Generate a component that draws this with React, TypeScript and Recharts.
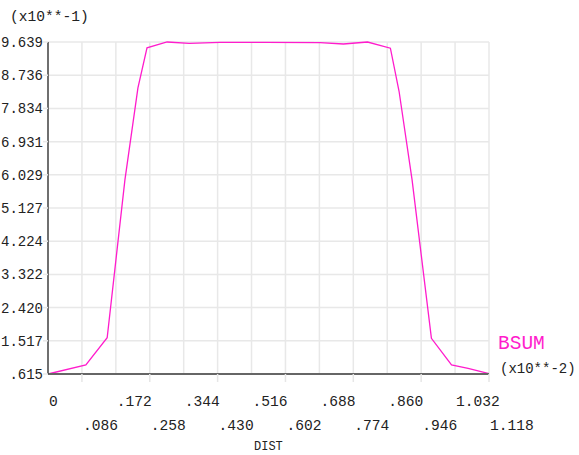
import React from "react";
import { LineChart, Line, XAxis, YAxis, CartesianGrid } from "recharts";

const distValues = [0, 0.096, 0.15, 0.195, 0.228, 0.251, 0.302, 0.358, 0.436, 0.55, 0.69, 0.749, 0.81, 0.868, 0.89, 0.923, 0.972, 1.023, 1.065, 1.118];
const bsumValues = [0.615, 0.86, 1.6, 5.89, 8.39, 9.48, 9.639, 9.604, 9.63, 9.63, 9.62, 9.585, 9.639, 9.47, 8.3, 5.89, 1.585, 0.86, 0.77, 0.625];

const xTicks = [0, 0.086, 0.172, 0.258, 0.344, 0.43, 0.516, 0.602, 0.688, 0.774, 0.86, 0.946, 1.032, 1.118];
const xTickLabels = ["0", ".086", ".172", ".258", ".344", ".430", ".516", ".602", ".688", ".774", ".860", ".946", "1.032", "1.118"];
const yTicks = [0.615, 1.517, 2.42, 3.322, 4.224, 5.127, 6.029, 6.931, 7.834, 8.736, 9.639];
const yTickLabels = [".615", "1.517", "2.420", "3.322", "4.224", "5.127", "6.029", "6.931", "7.834", "8.736", "9.639"];

const data = distValues.map((d, i) => ({ dist: d, bsum: bsumValues[i] }));

const FONT = "'Liberation Mono', 'Courier New', monospace";
const MAGENTA = "#ff1ccc";

const XTick = (props: any) => {
  const { x, y, index } = props;
  const odd = index % 2 === 1;
  return (
    <g>
      {odd && <line x1={x} y1={y - 8} x2={x} y2={y} stroke="#e6e6e6" strokeWidth={1.5} />}
      <text x={x + 1} y={y + (odd ? 48 : 24)} textAnchor="start" fontFamily={FONT} fontSize={14.6} fill="#222">
        {xTickLabels[index]}
      </text>
    </g>
  );
};

const YTick = (props: any) => {
  const { x, y, index } = props;
  return (
    <text x={x} y={y + 5} textAnchor="end" fontFamily={FONT} fontSize={14} fill="#222">
      {yTickLabels[index]}
    </text>
  );
};

export default function App() {
  return (
    <div style={{ position: "absolute", left: 0, top: 0, width: 579, height: 455, background: "#fff" }}>
      <LineChart width={579} height={455} data={data} margin={{ top: 42, right: 90, bottom: 0, left: 0 }}>
        <CartesianGrid stroke="#e8e8e8" strokeWidth={1.5} />
        <XAxis
          dataKey="dist"
          type="number"
          domain={[0, 1.118]}
          ticks={xTicks}
          interval={0}
          height={81}
          tickLine={false}
          tickSize={6}
          tickMargin={2}
          axisLine={{ stroke: "#666", strokeWidth: 2 }}
          tick={<XTick />}
        />
        <YAxis
          type="number"
          domain={[0.615, 9.639]}
          ticks={yTicks}
          interval={0}
          width={48}
          tickSize={5}
          tickMargin={0}
          tickLine={{ stroke: "#e8e8e8", strokeWidth: 1.5 }}
          axisLine={{ stroke: "#444", strokeWidth: 1.5 }}
          tick={<YTick />}
        />
        <Line type="linear" dataKey="bsum" stroke={MAGENTA} strokeWidth={1.3} dot={false} isAnimationActive={false} />
      </LineChart>
      <svg width={579} height={455} style={{ position: "absolute", left: 0, top: 0, pointerEvents: "none" }}>
        <text x={10} y={21} fontFamily={FONT} fontSize={14.6} fill="#222">(x10**-1)</text>
        <text x={498} y={349} fontFamily={FONT} fontSize={19.5} fill={MAGENTA}>BSUM</text>
        <text x={500} y={373} fontFamily={FONT} fontSize={14} fill="#222">(x10**-2)</text>
        <text x={254} y={450} fontFamily={FONT} fontSize={12} fill="#222">DIST</text>
      </svg>
    </div>
  );
}
